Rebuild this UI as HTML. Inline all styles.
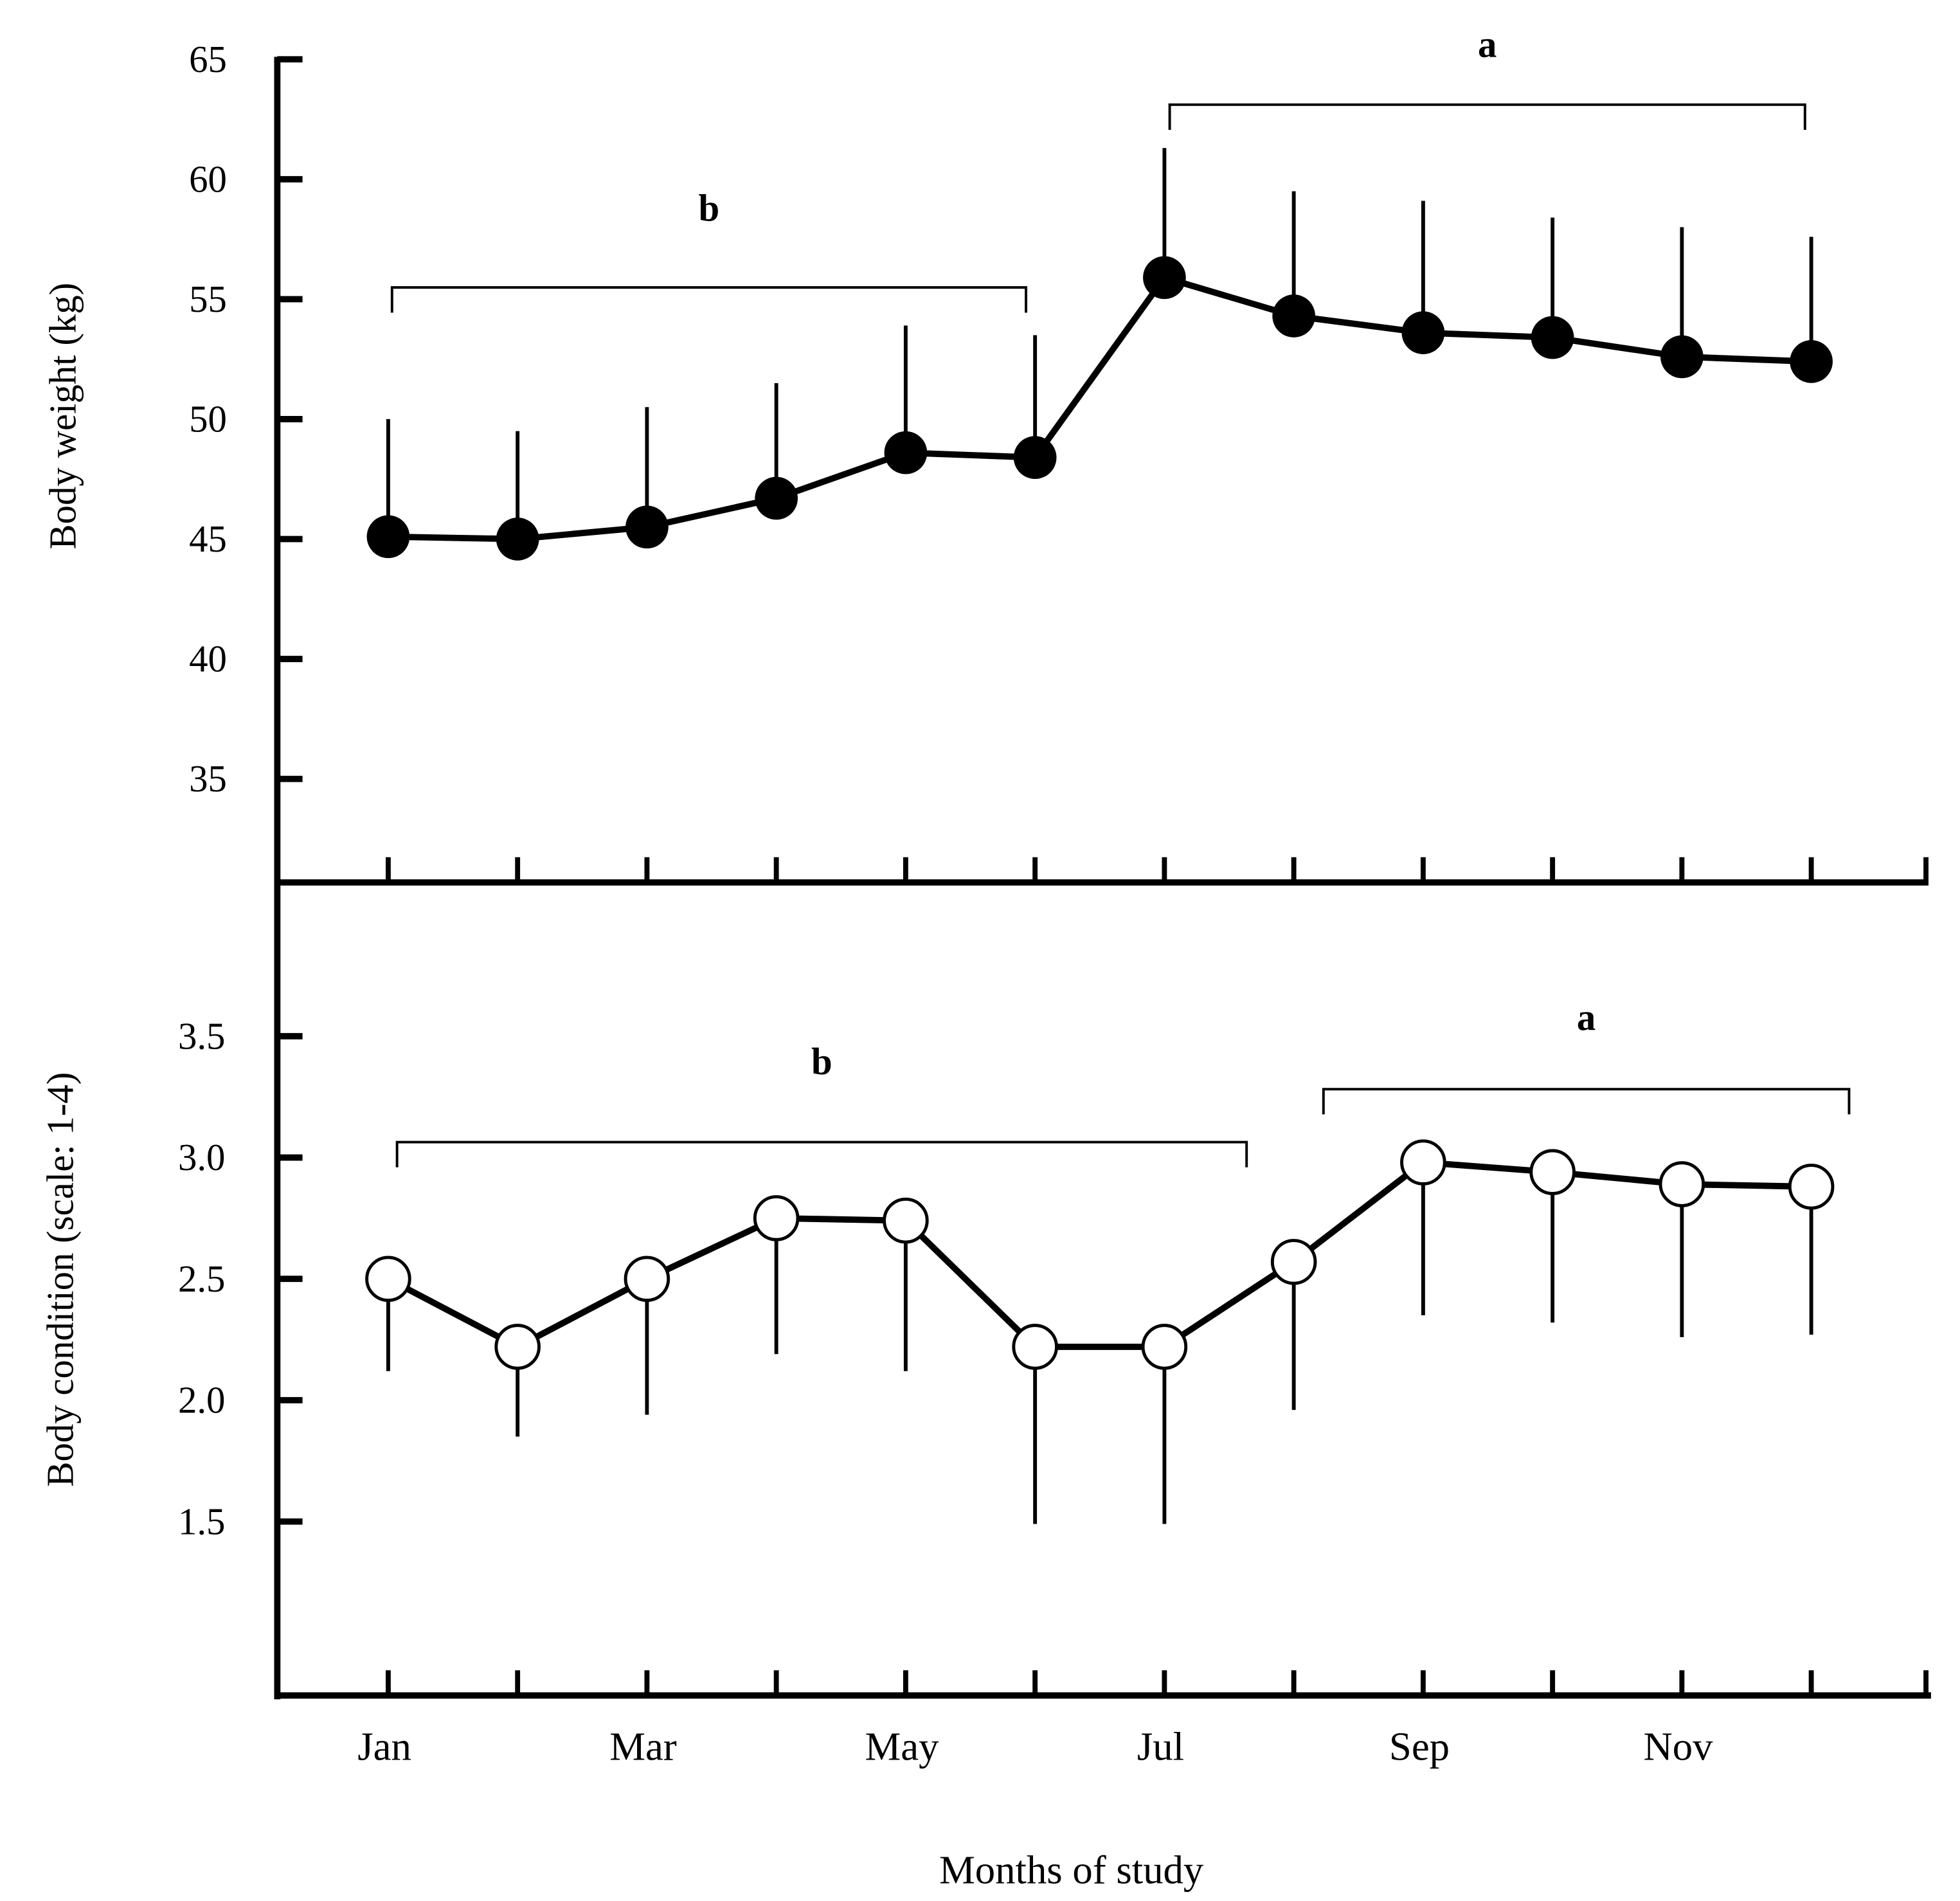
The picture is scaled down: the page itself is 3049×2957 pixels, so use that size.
<!DOCTYPE html>
<html><head><meta charset="utf-8"><style>
html,body{margin:0;padding:0;background:#fff;}
svg{display:block;}
text{font-family:"Liberation Serif",serif;fill:#000;}
</style></head><body>
<svg id="chart" width="3049" height="2957" viewBox="0 0 1555 1508" xmlns="http://www.w3.org/2000/svg">
<g id="g"></g>
</svg>
<script>
const months = ["Jan","Feb","Mar","Apr","May","Jun","Jul","Aug","Sep","Oct","Nov","Dec"];
const xLabels = ["Jan","Mar","May","Jul","Sep","Nov"];
const weightMeans = [45.1,45.0,45.5,46.7,48.6,48.4,55.9,54.3,53.6,53.4,52.6,52.4];
const weightUpper = [50.0,49.5,50.5,51.5,53.9,53.5,61.3,59.5,59.1,58.4,58.0,57.6];
const weightTicks = [65,60,55,50,45,40,35];
const condMeans = [2.50,2.22,2.50,2.75,2.74,2.22,2.22,2.57,2.98,2.94,2.89,2.88];
const condLower = [2.12,1.85,1.94,2.19,2.12,1.49,1.49,1.96,2.35,2.32,2.26,2.27];
const condTicks = ["3.5","3.0","2.5","2.0","1.5"];

const NS="http://www.w3.org/2000/svg";
const g=document.getElementById('g');
function mk(tag,attrs,name,parent){const e=document.createElementNS(NS,tag);for(const k in attrs)e.setAttribute(k,attrs[k]);


(parent||g).appendChild(e);return e;}
function txt(x,y,s,size,name,extra){const t=mk('text',Object.assign({x:x,y:y,'font-size':size,'text-anchor':'middle'},extra||{}),name);t.textContent=s;return t;}

const xS=i=>308+i*(1437-308)/11;
const yW=v=>47+(65-v)*19.03;
const yC=v=>822+(3.5-v)*192.5;

// axes
mk('line',{x1:220,y1:45,x2:220,y2:1348,stroke:'#000','stroke-width':5},'y-axis');
mk('line',{x1:218,y1:700,x2:1530,y2:700,stroke:'#000','stroke-width':5},'top-x-axis');
mk('line',{x1:218,y1:1345,x2:1532,y2:1345,stroke:'#000','stroke-width':5},'bottom-x-axis');
const tickXs=[];for(let i=0;i<12;i++)tickXs.push(xS(i));tickXs.push(1528);
tickXs.forEach((x,i)=>{
  mk('line',{x1:x,y1:680,x2:x,y2:700,stroke:'#000','stroke-width':4},'top-x-tick');
  mk('line',{x1:x,y1:1325,x2:x,y2:1345,stroke:'#000','stroke-width':4},'bottom-x-tick');
});
weightTicks.forEach(v=>{
  mk('line',{x1:220,y1:yW(v),x2:240,y2:yW(v),stroke:'#000','stroke-width':5},'weight-y-tick');
  txt(165,yW(v)+10,String(v),30,'weight-tick-label');
});
condTicks.forEach(v=>{
  mk('line',{x1:220,y1:yC(+v),x2:240,y2:yC(+v),stroke:'#000','stroke-width':5},'condition-y-tick');
  txt(160,yC(+v)+10,v,30,'condition-tick-label');
});
const labIdx=[0,2,4,6,8,10];
xLabels.forEach((s,k)=>txt(xS(labIdx[k])-3,1396,s,32,'x-tick-label'));
txt(850,1494,'Months of study',32,'x-axis-title');
txt(0,0,'Body weight (kg)',30,'weight-y-axis-title',{transform:'translate(60,330) rotate(-90)'});
txt(0,0,'Body condition (scale: 1-4)',30,'condition-y-axis-title',{transform:'translate(58,1015) rotate(-90)'});

// brackets
function bracket(x1,x2,y,lab,ly,name){
  mk('path',{d:`M${x1},${y+20}V${y}H${x2}V${y+20}`,fill:'none',stroke:'#000','stroke-width':2},name);
  txt((x1+x2)/2,ly,lab,30,name+'-label',{'font-weight':'bold'});
}
bracket(311,814,228,'b',175,'weight-bracket-b');
bracket(928,1432,83,'a',45,'weight-bracket-a');
bracket(315,989,906,'b',852,'condition-bracket-b');
bracket(1050,1467,864,'a',817,'condition-bracket-a');

// weight series
weightMeans.forEach((v,i)=>mk('line',{x1:xS(i),y1:yW(v),x2:xS(i),y2:yW(weightUpper[i]),stroke:'#000','stroke-width':3},'weight-error-bar'));
mk('polyline',{points:weightMeans.map((v,i)=>xS(i)+','+yW(v)).join(' '),fill:'none',stroke:'#000','stroke-width':5},'weight-line');
weightMeans.forEach((v,i)=>mk('circle',{cx:xS(i),cy:yW(v),r:17,fill:'#000'},'weight-point-'+months[i].toLowerCase()));

// condition series
condMeans.forEach((v,i)=>mk('line',{x1:xS(i),y1:yC(v),x2:xS(i),y2:yC(condLower[i]),stroke:'#000','stroke-width':3},'condition-error-bar'));
mk('polyline',{points:condMeans.map((v,i)=>xS(i)+','+yC(v)).join(' '),fill:'none',stroke:'#000','stroke-width':5},'condition-line');
condMeans.forEach((v,i)=>mk('circle',{cx:xS(i),cy:yC(v),r:17,fill:'#fff',stroke:'#000','stroke-width':2.5},'condition-point-'+months[i].toLowerCase()));
</script>
</body></html>
